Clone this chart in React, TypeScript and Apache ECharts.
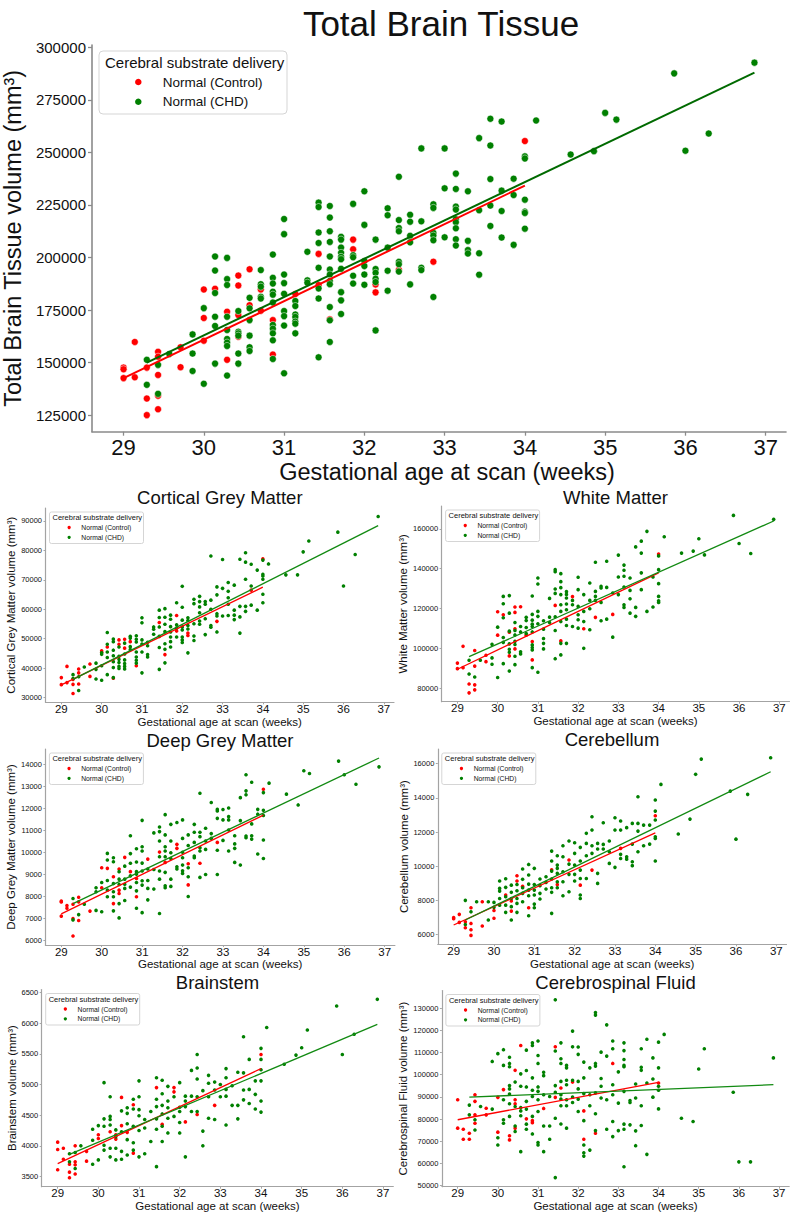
import React, { useEffect, useRef } from "react";
import * as echarts from "echarts";

// ---------------- DATA ----------------
const xTicks = [29, 30, 31, 32, 33, 34, 35, 36, 37];
const xRange = [28.607, 37.253];

// Total Brain Tissue
const tbtControl = [[29,147600],[29,146800],[29,142600],[29.14,159800],[29.14,143000],[29.29,147600],[29.29,132900],[29.29,125000],[29.43,155100],[29.43,152800],[29.43,144100],[29.43,134200],[29.43,127800],[29.71,157300],[29.71,147800],[30,184800],[30,171200],[30,160400],[30.14,185100],[30.29,174200],[30.29,151300],[30.43,191400],[30.43,186700],[30.43,172600],[30.43,162300],[30.57,194400],[30.57,177300],[30.71,174700],[30.71,184800],[30.86,170200],[30.86,153800],[31.14,182600],[31.43,201700],[31.43,186900],[31.57,170600],[31.86,208500],[31.86,203900],[32.14,187200],[32.14,183400],[32.43,194200],[32.86,198000],[34,255400]];
const tbtCHD = [[29.29,151300],[29.29,139400],[29.43,148900],[29.43,135100],[29.57,154100],[29.86,163400],[29.86,154300],[29.86,146000],[30,175900],[30,139900],[30.14,200500],[30.14,193800],[30.14,183100],[30.14,171800],[30.14,167400],[30.14,149500],[30.29,199800],[30.29,189700],[30.29,186900],[30.29,171800],[30.29,165500],[30.29,161200],[30.29,159500],[30.29,157900],[30.29,143800],[30.43,174500],[30.43,164700],[30.43,163900],[30.43,162800],[30.43,154300],[30.43,149500],[30.57,180800],[30.57,175800],[30.57,170200],[30.57,162800],[30.57,157300],[30.57,155500],[30.71,194000],[30.71,187300],[30.71,186100],[30.71,181300],[30.71,180500],[30.86,201400],[30.86,190300],[30.86,187600],[30.86,183700],[30.86,182300],[30.86,178600],[30.86,167900],[30.86,166100],[30.86,163900],[30.86,160600],[30.86,151700],[31,218300],[31,211100],[31,191900],[31,187800],[31,182700],[31,174500],[31,172100],[31,167600],[31,144900],[31.14,179300],[31.14,176900],[31.14,172900],[31.14,171700],[31.14,169500],[31.14,168500],[31.14,163900],[31.29,202700],[31.29,189100],[31.29,188000],[31.43,226100],[31.43,224000],[31.43,211900],[31.43,206900],[31.43,195100],[31.43,185300],[31.43,180500],[31.43,152500],[31.57,224500],[31.57,219000],[31.57,212500],[31.57,207400],[31.57,200500],[31.57,194300],[31.57,191900],[31.57,188800],[31.57,187300],[31.57,176400],[31.57,170100],[31.57,159800],[31.71,209800],[31.71,208500],[31.71,204700],[31.71,202200],[31.71,200300],[31.71,199200],[31.71,194600],[31.71,183500],[31.71,179600],[31.71,173100],[31.86,225500],[31.86,201100],[31.86,200100],[31.86,191300],[31.86,187600],[32,231500],[32,215500],[32,198300],[32,195900],[32,191900],[32,187000],[32.14,208500],[32.14,194500],[32.14,192700],[32.14,189900],[32.14,188300],[32.14,165300],[32.29,223400],[32.29,220100],[32.29,204700],[32.29,193700],[32.29,184200],[32.43,238400],[32.43,217800],[32.43,214000],[32.43,212500],[32.43,197900],[32.43,196800],[32.43,193300],[32.57,220300],[32.57,217000],[32.57,210300],[32.57,207200],[32.57,187200],[32.71,251900],[32.71,217200],[32.71,195100],[32.71,194000],[32.86,225300],[32.86,223600],[32.86,211700],[32.86,210400],[32.86,208200],[32.86,181200],[33,251900],[33,232900],[33,209600],[33.14,239900],[33.14,232600],[33.14,224200],[33.14,222800],[33.14,218200],[33.14,216800],[33.14,213900],[33.14,208700],[33.14,205700],[33.29,231500],[33.29,207900],[33.29,203500],[33.29,201900],[33.43,256800],[33.43,222500],[33.43,202000],[33.43,191800],[33.57,266000],[33.57,253300],[33.57,237300],[33.57,224700],[33.57,215000],[33.71,264700],[33.71,231800],[33.71,222100],[33.71,209500],[33.86,237500],[33.86,229700],[33.86,206000],[34,248100],[34,247100],[34,227500],[34,221800],[34,221200],[34,213700],[34.14,265200],[34.57,249000],[34.86,250600],[35,268800],[35.14,265600],[35.86,287600],[36,250800],[36.29,259000],[36.86,292700]];
const tbtControlFit = [[29,142600],[34,234200]];
const tbtCHDFit = [[29.29,150000],[36.86,288000]];
const tbtYTicks = [125000,150000,175000,200000,225000,250000,275000,300000];
const tbtYRange = [117100, 301100];

// Cortical Grey Matter
const cgmControl = [[29,36800],[29,34400],[29.14,35100],[29.14,40600],[29.29,36200],[29.29,34500],[29.29,31400],[29.43,39700],[29.43,38400],[29.43,34600],[29.71,41400],[29.71,37200],[30,45900],[30,45400],[30.14,47200],[30.29,36600],[30.43,49600],[30.43,48100],[30.57,49800],[30.57,46800],[30.71,49000],[30.86,40800],[31.43,55500],[31.57,44600],[31.86,57900],[31.86,52600],[32.14,51900],[32.14,51100],[32.86,55900],[33.71,66500],[34,77100]];
const cgmCHD = [[29.29,37800],[29.29,36500],[29.43,37100],[29.43,32400],[29.57,40400],[29.86,41700],[29.86,39600],[29.86,36300],[30,45200],[30,44700],[30,40800],[30,35900],[30.14,52100],[30.14,48100],[30.14,45500],[30.14,43600],[30.14,37800],[30.29,49900],[30.29,49000],[30.29,46100],[30.29,44200],[30.29,42200],[30.29,40200],[30.29,36800],[30.43,47200],[30.43,44000],[30.43,43000],[30.43,41900],[30.43,40600],[30.43,39900],[30.57,48500],[30.57,44800],[30.57,42800],[30.57,41600],[30.57,40600],[30.57,39700],[30.71,50800],[30.71,50200],[30.71,47300],[30.71,46300],[30.86,51000],[30.86,49800],[30.86,48900],[30.86,45500],[30.86,43800],[30.86,42700],[30.86,41700],[31,57100],[31,55400],[31,49600],[31,48200],[31,45500],[31,38400],[31.14,48800],[31.14,47600],[31.14,44600],[31.14,43800],[31.29,54000],[31.29,53200],[31.29,51500],[31.43,59700],[31.43,57200],[31.43,54000],[31.43,50800],[31.43,47000],[31.43,39600],[31.57,60200],[31.57,57300],[31.57,54900],[31.57,52400],[31.57,48300],[31.57,46400],[31.57,41800],[31.71,58000],[31.71,56600],[31.71,54100],[31.71,52300],[31.71,50600],[31.71,49000],[31.71,47200],[31.86,62200],[31.86,54700],[31.86,53600],[31.86,50600],[32,67800],[32,60700],[32,56300],[32,54000],[32,53000],[32,50600],[32,49600],[32,48700],[32.14,57100],[32.14,56200],[32.14,54500],[32.14,53300],[32.14,45200],[32.29,63400],[32.29,61900],[32.29,55100],[32.29,50900],[32.29,49400],[32.43,64400],[32.43,62600],[32.43,60800],[32.43,58800],[32.43,56000],[32.43,54900],[32.57,62600],[32.57,61700],[32.57,56800],[32.57,51400],[32.71,78100],[32.71,63100],[32.71,60000],[32.71,54500],[32.71,53900],[32.86,67600],[32.86,64900],[32.86,58500],[32.86,57700],[32.86,52300],[33,76900],[33,67100],[33,57700],[33.14,69100],[33.14,66100],[33.14,63900],[33.14,61700],[33.14,57900],[33.29,68200],[33.29,59700],[33.29,58000],[33.29,56500],[33.43,77000],[33.43,61000],[33.43,57400],[33.43,51900],[33.57,79200],[33.57,76000],[33.57,70200],[33.57,61000],[33.57,59300],[33.71,75300],[33.71,67900],[33.71,61400],[33.86,73300],[33.86,59700],[34,76700],[34,71900],[34,71300],[34,70200],[34,65100],[34,62200],[34.14,75400],[34.57,71700],[34.86,71700],[35,79500],[35.14,83200],[35.86,86200],[36,67900],[36.29,78600],[36.86,91500]];
const cgmControlFit = [[29,34300],[34,67500]];
const cgmCHDFit = [[29.29,36200],[36.86,88400]];
const cgmYTicks = [30000,40000,50000,60000,70000,80000,90000];
const cgmYRange = [28400, 94400];

// White Matter
const wmControl = [[29,92700],[29,89900],[29.14,101100],[29.14,90400],[29.29,82200],[29.29,77800],[29.43,99000],[29.43,91200],[29.43,81800],[29.43,79300],[29.71,96600],[29.71,93400],[30,118400],[30,106700],[30.14,116900],[30.29,108200],[30.29,96300],[30.43,120800],[30.43,118100],[30.43,109900],[30.43,99800],[30.57,120900],[30.71,106700],[30.86,103500],[30.86,94300],[31.43,121600],[31.57,103800],[31.86,126000],[32.14,109900],[32.43,115600],[32.86,117100],[34,147300]];
const wmCHD = [[29.29,87200],[29.29,94100],[29.43,85700],[29.57,94100],[29.86,102100],[29.86,95300],[29.86,92100],[30,110700],[30,85500],[30.14,126100],[30.14,122400],[30.14,115400],[30.14,105500],[30.14,103100],[30.14,92400],[30.29,126500],[30.29,117700],[30.29,108700],[30.29,102300],[30.29,99600],[30.29,98100],[30.29,88700],[30.43,113000],[30.43,109000],[30.43,106800],[30.43,103600],[30.43,102000],[30.43,96100],[30.43,91900],[30.57,111000],[30.57,108300],[30.57,98400],[30.57,97300],[30.71,115600],[30.71,114000],[30.71,110500],[30.71,107500],[30.86,126300],[30.86,117100],[30.86,114200],[30.86,112200],[30.86,111000],[30.86,108300],[30.86,101800],[30.86,100500],[30.86,99300],[30.86,90400],[31,135300],[31,132300],[31,118600],[31,116100],[31,112400],[31,88100],[31.14,113900],[31.14,109700],[31.14,105000],[31.14,102600],[31.14,99800],[31.29,125100],[31.29,115700],[31.29,113000],[31.43,139500],[31.43,138500],[31.43,129800],[31.43,127600],[31.43,115900],[31.43,109000],[31.43,94900],[31.57,137500],[31.57,133500],[31.57,130500],[31.57,127000],[31.57,121900],[31.57,118600],[31.57,113500],[31.57,102600],[31.57,96800],[31.71,128500],[31.71,127100],[31.71,125300],[31.71,122300],[31.71,119400],[31.71,114700],[31.71,111500],[31.71,102600],[31.86,124100],[31.86,121900],[31.86,111000],[32,135700],[32,129500],[32,121100],[32,116900],[32,114400],[32,110200],[32.14,127000],[32.14,118600],[32.14,113500],[32.14,100100],[32.29,132800],[32.29,124100],[32.29,119900],[32.29,109400],[32.43,143200],[32.43,128600],[32.43,126100],[32.43,124100],[32.57,131200],[32.57,130300],[32.57,123100],[32.57,113900],[32.71,143700],[32.71,130600],[32.71,114700],[32.86,127800],[32.86,105700],[33,146800],[33,135800],[33,127000],[33.14,141800],[33.14,139200],[33.14,136200],[33.14,130800],[33.14,121900],[33.14,120600],[33.29,135300],[33.29,129100],[33.29,124900],[33.29,117700],[33.43,150900],[33.43,120600],[33.43,116100],[33.57,153800],[33.57,147800],[33.57,137900],[33.57,129500],[33.71,158700],[33.71,118600],[33.86,135800],[33.86,120800],[34,146400],[34,139500],[34,132500],[34,126100],[34,123900],[34,123100],[34.14,156000],[34.57,147800],[34.86,148800],[35,155000],[35.14,146900],[35.86,166700],[36,152600],[36.29,147600],[36.86,164700]];
const wmControlFit = [[29,89600],[34,137900]];
const wmCHDFit = [[29.29,95900],[36.86,163900]];
const wmYTicks = [80000,100000,120000,140000,160000];
const wmYRange = [73350, 171400];

// Deep Grey Matter
const dgmControl = [[29,7790],[29,7750],[29,7110],[29.14,7590],[29.14,7470],[29.29,7650],[29.29,7000],[29.29,6210],[29.43,7970],[29.43,7760],[29.43,6910],[29.71,7340],[30,9310],[30,8400],[30.14,9280],[30.29,8900],[30.29,7680],[30.43,9250],[30.43,8290],[30.43,8140],[30.57,9780],[30.71,9130],[30.86,7990],[30.86,8820],[31.14,9700],[31.43,10020],[31.57,9550],[31.86,10370],[31.86,10190],[32.14,9490],[32.14,8530],[32.43,9510],[32.86,10460],[34,12870]];
const dgmCHD = [[29.29,7910],[29.29,6940],[29.43,7180],[29.57,7650],[29.86,8400],[29.86,8220],[29.86,7370],[30,8640],[30,7310],[30.14,9960],[30.14,9660],[30.14,8730],[30.14,8290],[30.14,7990],[30.29,9760],[30.29,9580],[30.29,8590],[30.29,8220],[30.29,7990],[30.29,7350],[30.43,9130],[30.43,8790],[30.43,8550],[30.43,7680],[30.43,7030],[30.57,9380],[30.57,8790],[30.57,8560],[30.57,8370],[30.57,7820],[30.71,10760],[30.71,9950],[30.71,9510],[30.71,8940],[30.71,8430],[30.86,10170],[30.86,9570],[30.86,9130],[30.86,9020],[30.86,8640],[30.86,8260],[30.86,7470],[31,11460],[31,10260],[31,10070],[31,9520],[31,9160],[31,8720],[31,8520],[31,7270],[31.14,9250],[31.14,8730],[31.14,8370],[31.14,7850],[31.29,10890],[31.29,9230],[31.29,8340],[31.43,11160],[31.43,10950],[31.43,10520],[31.43,9810],[31.43,9160],[31.43,8790],[31.43,7230],[31.57,11720],[31.57,10800],[31.57,10260],[31.57,10070],[31.57,9810],[31.57,9100],[31.57,8490],[31.57,8400],[31.71,11280],[31.71,10520],[31.71,9990],[31.71,9730],[31.71,8790],[31.71,8460],[31.86,11360],[31.86,9350],[31.86,9250],[32,11480],[32,10640],[32,10010],[32,9760],[32,9430],[32,9170],[32,9050],[32.14,10800],[32.14,10320],[32.14,9310],[32.14,8900],[32.14,8000],[32.29,11280],[32.29,10920],[32.29,10460],[32.29,9840],[32.29,9760],[32.43,12690],[32.43,10920],[32.43,10720],[32.43,10220],[32.43,10070],[32.43,8870],[32.57,11100],[32.57,10520],[32.57,10140],[32.57,9000],[32.71,12270],[32.71,10860],[32.71,10640],[32.86,11960],[32.86,11890],[32.86,11550],[32.86,10100],[32.86,9000],[33,11950],[33,11480],[33,10550],[33.14,12020],[33.14,11630],[33.14,11480],[33.14,11020],[33.14,10070],[33.29,10760],[33.29,10390],[33.29,10190],[33.29,9550],[33.43,12490],[33.43,11450],[33.43,9430],[33.57,13530],[33.57,12800],[33.57,12620],[33.57,10750],[33.57,10670],[33.71,13190],[33.71,11300],[33.71,10760],[33.71,10610],[33.86,11960],[33.86,11740],[33.86,9930],[34,12720],[34,11920],[34,11680],[34,10570],[34,9730],[34.14,13150],[34.57,12650],[34.86,12160],[35,13710],[35.14,13590],[35.86,14150],[36,13530],[36.29,13100],[36.86,13890]];
const dgmControlFit = [[29,7210],[34,11700]];
const dgmCHDFit = [[29.29,7680],[36.86,14290]];
const dgmYTicks = [6000,7000,8000,9000,10000,11000,12000,13000,14000];
const dgmYRange = [5800, 14700];

// Cerebellum
const cbControl = [[29,7010],[29,6940],[29.14,7190],[29.14,6720],[29.29,6760],[29.29,6410],[29.43,7580],[29.43,6660],[29.43,6290],[29.43,5960],[29.71,7930],[29.71,6510],[30,7420],[30,6960],[30.29,8320],[30.43,7970],[30.43,7380],[30.57,9450],[30.57,9140],[30.71,8830],[30.86,7580],[31.43,9800],[31.57,8930],[31.86,10370],[32.14,8900],[32.43,9780],[33.14,11050],[34,12960]];
const cbCHD = [[29.29,8010],[29.29,6600],[29.43,7340],[29.57,7930],[29.86,7930],[29.86,6860],[30,7890],[30,7600],[30.14,9140],[30.14,8710],[30.14,8550],[30.14,8120],[30.14,7730],[30.29,9270],[30.29,8770],[30.29,8220],[30.29,7730],[30.29,7310],[30.43,8900],[30.43,8480],[30.43,8120],[30.43,7640],[30.43,6860],[30.57,8940],[30.57,8570],[30.57,8120],[30.57,7830],[30.57,7310],[30.71,9840],[30.71,9240],[30.71,8750],[30.71,8420],[30.71,7930],[30.86,10110],[30.86,9490],[30.86,8960],[30.86,8610],[30.86,8280],[30.86,7110],[31,9880],[31,8940],[31,8610],[31,8320],[31,7790],[31,7580],[31.14,9260],[31.14,8870],[31.14,8420],[31.14,8090],[31.29,9390],[31.29,9060],[31.29,8670],[31.43,10890],[31.43,10310],[31.43,9720],[31.43,9260],[31.43,8750],[31.43,8480],[31.43,7250],[31.57,10620],[31.57,10070],[31.57,9880],[31.57,9590],[31.57,9100],[31.57,8750],[31.71,11200],[31.71,10560],[31.71,9680],[31.71,9100],[31.71,8280],[31.86,11480],[31.86,10130],[31.86,9530],[31.86,8510],[32,11380],[32,10760],[32,10070],[32,9530],[32,9140],[32.14,11110],[32.14,10310],[32.14,9780],[32.14,9290],[32.14,8320],[32.14,8120],[32.29,11930],[32.29,11340],[32.29,10620],[32.29,9290],[32.43,12900],[32.43,12120],[32.43,11200],[32.43,10760],[32.57,11340],[32.57,11010],[32.57,9590],[32.57,9000],[32.71,12550],[32.71,11280],[32.71,11010],[32.86,11480],[32.86,10850],[32.86,10170],[33,12840],[33,12120],[33,9940],[33.14,12650],[33.14,12120],[33.14,10700],[33.14,10460],[33.29,12260],[33.29,10560],[33.29,10420],[33.43,12510],[33.43,11300],[33.43,10270],[33.43,10040],[33.57,14070],[33.57,12510],[33.57,12060],[33.57,10850],[33.71,12410],[33.71,11200],[33.86,12410],[33.86,11300],[34,13880],[34,13230],[34,12710],[34,11730],[34,11630],[34,10310],[34.14,14790],[34.57,11890],[34.86,12760],[35,15380],[35.14,16270],[35.86,14400],[36,11590],[36.29,14210],[36.86,16350]];
const cbControlFit = [[29,6570],[34,11960]];
const cbCHDFit = [[29.29,6860],[36.86,15530]];
const cbYTicks = [6000,8000,10000,12000,14000,16000];
const cbYRange = [5440, 16860];

// Brainstem
const bsControl = [[29,4060],[29,3940],[29,3610],[29.14,3960],[29.14,3780],[29.29,3700],[29.29,3570],[29.29,3480],[29.43,4000],[29.43,3740],[29.43,3690],[29.43,3540],[29.71,3910],[29.71,3750],[30,4180],[30,4120],[30.29,4230],[30.43,4180],[30.43,4110],[30.57,4790],[30.57,4330],[30.71,4220],[30.86,4670],[30.86,3880],[31.43,4950],[31.57,4350],[31.86,4950],[31.86,4880],[32.14,4390],[32.43,4510],[32.86,4660],[34,5490]];
const bsCHD = [[29.29,3870],[29.29,3740],[29.43,3890],[29.43,3630],[29.57,4000],[29.86,4270],[29.86,4090],[29.86,3700],[30,4330],[30,3770],[30.14,5030],[30.14,4440],[30.14,4320],[30.14,4010],[30.14,3930],[30.29,4800],[30.29,4480],[30.29,4430],[30.29,4340],[30.29,3960],[30.29,3820],[30.43,4260],[30.43,4150],[30.43,3960],[30.43,3770],[30.57,4570],[30.57,4230],[30.57,3910],[30.57,3780],[30.71,4620],[30.71,4530],[30.71,4360],[30.71,4100],[30.71,3850],[30.86,4760],[30.86,4600],[30.86,4320],[30.86,4050],[30.86,3930],[31,5060],[31,4800],[31,4590],[31,4490],[31,4250],[31,3820],[31.14,4430],[31.14,4290],[31.14,3870],[31.29,4560],[31.29,4070],[31.43,5110],[31.43,4760],[31.43,4640],[31.43,4440],[31.43,4270],[31.43,3660],[31.57,5070],[31.57,4850],[31.57,4660],[31.57,4520],[31.57,4320],[31.57,4070],[31.71,4970],[31.71,4730],[31.71,4620],[31.71,4450],[31.71,4210],[31.86,4800],[31.86,4480],[32,5030],[32,4630],[32,4560],[32,4380],[32,4210],[32.14,4810],[32.14,4730],[32.14,4640],[32.14,3820],[32.29,5230],[32.29,4810],[32.29,4560],[32.43,5490],[32.43,5270],[32.43,5090],[32.43,4800],[32.43,4560],[32.57,4900],[32.57,4240],[32.57,4000],[32.71,5150],[32.71,5020],[32.71,4800],[32.71,4450],[32.86,5040],[32.86,4910],[32.86,4430],[33,5000],[33,4800],[33.14,5260],[33.14,5110],[33.14,4920],[33.14,4810],[33.14,4340],[33.29,4980],[33.29,4660],[33.43,5200],[33.43,4660],[33.43,4440],[33.57,5780],[33.57,5190],[33.57,4910],[33.57,4750],[33.71,5410],[33.71,4920],[33.71,4690],[33.86,5060],[33.86,4840],[33.86,4600],[34,5590],[34,5410],[34,5240],[34,5060],[34,4730],[34,4550],[34.14,5930],[34.57,5330],[34.86,5480],[35,5600],[35.14,5890],[35.86,6280],[36,5490],[36.29,5820],[36.86,6390]];
const bsControlFit = [[29,3710],[34,5260]];
const bsCHDFit = [[29.29,3860],[36.86,5980]];
const bsYTicks = [3500,4000,4500,5000,5500,6000,6500];
const bsYRange = [3333, 6550];

// Cerebrospinal Fluid
const csfControl = [[29,88700],[29,75900],[29.14,75400],[29.14,70900],[29.29,73600],[29.29,70900],[29.43,91000],[29.43,88000],[29.43,81900],[29.43,78100],[29.71,84900],[29.71,81900],[30,89800],[30,74100],[30.14,93300],[30.29,72500],[30.29,70600],[30.43,102000],[30.43,88700],[30.43,86900],[30.43,75900],[30.57,113200],[30.71,80100],[30.86,79300],[30.86,78400],[31.14,84800],[31.43,112600],[31.43,89800],[31.57,94000],[31.86,96700],[32.14,83700],[32.14,70900],[32.43,73600],[32.86,105100],[34,96300]];
const csfCHD = [[29.29,86300],[29.29,81900],[29.43,79700],[29.43,75100],[29.57,85700],[29.86,106000],[29.86,84500],[30,109500],[30,71600],[30,68300],[30.14,111300],[30.14,104200],[30.14,88700],[30.14,79700],[30.14,78100],[30.29,107900],[30.29,105100],[30.29,103600],[30.29,95100],[30.29,93600],[30.29,91300],[30.29,86900],[30.29,81200],[30.43,96700],[30.43,85700],[30.43,76900],[30.43,74400],[30.57,100400],[30.57,94800],[30.57,85200],[30.57,83700],[30.57,81500],[30.57,65300],[30.71,111100],[30.71,101900],[30.71,94500],[30.71,88000],[30.71,84500],[30.71,77700],[30.71,75400],[30.86,114400],[30.86,113200],[30.86,98600],[30.86,93000],[30.86,90200],[30.86,81200],[30.86,73300],[31,115200],[31,108700],[31,105100],[31,94500],[31,92500],[31,88700],[31,83400],[31,69400],[31,68300],[31.14,101100],[31.14,99600],[31.14,91000],[31.14,76900],[31.14,65300],[31.29,90200],[31.29,76900],[31.29,70900],[31.43,133800],[31.43,110700],[31.43,95100],[31.43,92100],[31.43,80400],[31.43,53600],[31.57,114400],[31.57,107200],[31.57,105100],[31.57,97000],[31.57,91000],[31.57,89000],[31.57,86000],[31.57,77800],[31.71,104200],[31.71,103100],[31.71,97500],[31.71,95500],[31.71,88700],[31.71,86000],[31.71,75900],[31.86,119700],[31.86,112600],[31.86,97500],[31.86,89900],[31.86,87500],[32,112500],[32,109200],[32,97000],[32,93600],[32,89000],[32,83400],[32.14,105700],[32.14,98600],[32.14,91500],[32.14,79300],[32.14,68300],[32.14,64800],[32.14,63300],[32.29,103100],[32.29,91000],[32.29,86000],[32.29,66000],[32.43,128100],[32.43,126900],[32.43,105100],[32.43,103900],[32.43,91800],[32.43,82400],[32.43,74800],[32.57,110200],[32.57,98300],[32.57,94800],[32.57,89500],[32.71,122500],[32.71,108400],[32.71,88700],[32.71,75400],[32.86,115200],[32.86,111700],[32.86,95500],[32.86,91000],[32.86,78900],[32.86,72100],[33,101300],[33,87200],[33,74800],[33.14,114400],[33.14,110900],[33.14,106900],[33.14,104200],[33.14,103600],[33.14,92500],[33.14,77700],[33.14,75400],[33.14,58500],[33.29,88400],[33.29,87500],[33.29,77400],[33.43,95800],[33.43,89500],[33.43,74700],[33.43,68000],[33.57,111700],[33.57,103400],[33.57,102000],[33.57,86000],[33.57,77100],[33.71,116000],[33.71,96300],[33.71,64100],[33.86,107600],[33.86,98100],[33.86,89900],[34,114700],[34,103100],[34,94800],[34,93000],[34,84600],[34.14,118200],[34.57,80400],[34.86,78900],[35,102600],[35.14,111700],[35.86,92100],[36,60700],[36.29,60700],[36.86,107600]];
const csfControlFit = [[29,79700],[34,96600]];
const csfCHDFit = [[29.29,89900],[36.86,95500]];
const csfYTicks = [50000,60000,70000,80000,90000,100000,110000,120000,130000];
const csfYRange = [49500, 138000];

const legendTitle = "Cerebral substrate delivery";
const controlName = "Normal (Control)";
const chdName = "Normal (CHD)";
const xName = "Gestational age at scan (weeks)";

const PANELS = [
  { title: "Total Brain Tissue", yName: "Total Brain Tissue volume (mm³)", control: tbtControl, chd: tbtCHD, controlFit: tbtControlFit, chdFit: tbtCHDFit, yTicks: tbtYTicks, yRange: tbtYRange },
  { title: "Cortical Grey Matter", yName: "Cortical Grey Matter volume (mm³)", control: cgmControl, chd: cgmCHD, controlFit: cgmControlFit, chdFit: cgmCHDFit, yTicks: cgmYTicks, yRange: cgmYRange },
  { title: "White Matter", yName: "White Matter volume (mm³)", control: wmControl, chd: wmCHD, controlFit: wmControlFit, chdFit: wmCHDFit, yTicks: wmYTicks, yRange: wmYRange },
  { title: "Deep Grey Matter", yName: "Deep Grey Matter volume (mm³)", control: dgmControl, chd: dgmCHD, controlFit: dgmControlFit, chdFit: dgmCHDFit, yTicks: dgmYTicks, yRange: dgmYRange },
  { title: "Cerebellum", yName: "Cerebellum volume (mm³)", control: cbControl, chd: cbCHD, controlFit: cbControlFit, chdFit: cbCHDFit, yTicks: cbYTicks, yRange: cbYRange },
  { title: "Brainstem", yName: "Brainstem volume (mm³)", control: bsControl, chd: bsCHD, controlFit: bsControlFit, chdFit: bsCHDFit, yTicks: bsYTicks, yRange: bsYRange },
  { title: "Cerebrospinal Fluid", yName: "Cerebrospinal Fluid volume (mm³)", control: csfControl, chd: csfCHD, controlFit: csfControlFit, chdFit: csfCHDFit, yTicks: csfYTicks, yRange: csfYRange },
];

// ---------------- LAYOUT / STYLE ----------------
const FONT = '"Liberation Sans", Arial, Helvetica, sans-serif';
const RED = "#ff0000";
const GREEN = "#008000";
const TEXT = "#111111";

const LAYOUTS = [
  { big: true, left: 92, right: 786, top: 45, bottom: 431.7, titleX: 441, titleY: 23.5, yNameGap: 57, xNameGap: 27 },
  { big: false, left: 45.5, right: 394, top: 508, bottom: 702.3, titleX: 219.8, titleY: 497, yNameGap: 25, xNameGap: 11.5 },
  { big: false, left: 441.6, right: 789.5, top: 506, bottom: 701.7, titleX: 615.5, titleY: 497, yNameGap: 28.5, xNameGap: 12 },
  { big: false, left: 45.4, right: 394.9, top: 749, bottom: 945, titleX: 220, titleY: 740.5, yNameGap: 25.5, xNameGap: 11.5 },
  { big: false, left: 437.8, right: 786.5, top: 749, bottom: 944.3, titleX: 612, titleY: 739.5, yNameGap: 25, xNameGap: 12 },
  { big: false, left: 41.7, right: 393.3, top: 989.5, bottom: 1186.7, titleX: 217.5, titleY: 982, yNameGap: 21, xNameGap: 13.5 },
  { big: false, left: 441.9, right: 789.2, top: 990.5, bottom: 1186.7, titleX: 615.5, titleY: 982, yNameGap: 28, xNameGap: 13.5 },
];

const BIG = { s: 1, xTickFont: 22, yTickFont: 15, nameFont: 23.5, titleFont: 35, sym: 7, border: 0.5, lw: 2, axisW: 1.6, axisColor: "#8a8a8a", tickLen: 4, xMargin: 5, yMargin: 6, fitGreen: "#006a00", xNamePad: 16 };
const SMALL = { s: 0.5, xTickFont: 11.5, yTickFont: 7.5, nameFont: 11.5, titleFont: 18.5, sym: 3.6, border: 0, lw: 1.3, axisW: 1.2, axisColor: "#a3a3a3", tickLen: 2, xMargin: 0.5, yMargin: 3.5, fitGreen: "#128a12", xNamePad: 0 };

function buildOption() {
  const grid: any[] = [];
  const xAxis: any[] = [];
  const yAxis: any[] = [];
  const series: any[] = [];
  const legend: any[] = [];
  const elements: any[] = [];
  const fmt = (v: number) => String(v);

  PANELS.forEach((p, i) => {
    const L = LAYOUTS[i];
    const st = L.big ? BIG : SMALL;
    const s = st.s;
    grid.push({ left: L.left, top: L.top, width: L.right - L.left, height: L.bottom - L.top, containLabel: false, outerBoundsMode: "none" });
    xAxis.push({
      type: "value", gridIndex: i, min: xRange[0], max: xRange[1],
      axisLine: { show: true, onZero: false, lineStyle: { color: st.axisColor, width: st.axisW } },
      axisTick: { show: true, length: st.tickLen, customValues: xTicks, lineStyle: { color: st.axisColor, width: st.axisW * 0.8 } },
      axisLabel: { customValues: xTicks, formatter: fmt, fontSize: st.xTickFont, fontFamily: FONT, color: TEXT, margin: st.xMargin },
      splitLine: { show: false },
      name: xName, nameLocation: "middle", nameGap: L.xNameGap,
      nameTextStyle: { fontSize: st.nameFont, fontFamily: FONT, color: TEXT, padding: [0, 0, 0, st.xNamePad] },
    });
    yAxis.push({
      type: "value", gridIndex: i, min: p.yRange[0], max: p.yRange[1],
      axisLine: { show: true, onZero: false, lineStyle: { color: st.axisColor, width: st.axisW } },
      axisTick: { show: true, length: st.tickLen, customValues: p.yTicks, lineStyle: { color: st.axisColor, width: st.axisW * 0.8 } },
      axisLabel: { customValues: p.yTicks, formatter: fmt, fontSize: st.yTickFont, fontFamily: FONT, color: TEXT, margin: st.yMargin },
      splitLine: { show: false },
      name: p.yName, nameLocation: "middle", nameGap: L.yNameGap, nameRotate: 90,
      nameTextStyle: { fontSize: st.nameFont, fontFamily: FONT, color: TEXT },
    });
    series.push({
      type: "scatter", name: controlName, xAxisIndex: i, yAxisIndex: i, data: p.control,
      symbol: "circle", symbolSize: st.sym, z: 2,
      itemStyle: { color: RED, opacity: 1, borderColor: "#ffffff", borderWidth: st.border },
    });
    series.push({
      type: "scatter", name: chdName, xAxisIndex: i, yAxisIndex: i, data: p.chd,
      symbol: "circle", symbolSize: st.sym, z: 3,
      itemStyle: { color: GREEN, opacity: 1, borderColor: "#ffffff", borderWidth: st.border },
    });
    series.push({
      type: "line", name: "Control fit", xAxisIndex: i, yAxisIndex: i, data: p.controlFit,
      showSymbol: false, symbol: "none", silent: true, z: 4,
      lineStyle: { color: RED, width: st.lw }, itemStyle: { color: RED },
    });
    series.push({
      type: "line", name: "CHD fit", xAxisIndex: i, yAxisIndex: i, data: p.chdFit,
      showSymbol: false, symbol: "none", silent: true, z: 5,
      lineStyle: { color: st.fitGreen, width: st.lw }, itemStyle: { color: st.fitGreen },
    });

    // legend box
    const boxL = L.left + (L.big ? 7 : 4);
    const boxT = L.top + (L.big ? 6 : 4);
    const dot = L.big ? 6.5 : 3.3;
    legend.push({
      data: [controlName, chdName], orient: "vertical",
      left: boxL + 39.3 * s - dot / 2, top: boxT + 24 * s,
      padding: 0, itemWidth: dot, itemHeight: dot, itemGap: 5.7 * s, icon: "circle",
      selectedMode: false, z: 6,
      itemStyle: { borderWidth: 0 },
      textStyle: { fontSize: 13.5 * s, fontFamily: FONT, color: TEXT, lineHeight: 14 * s, padding: [0, 0, 0, 24.4 * s - dot / 2 - 5] },
    });
    elements.push({
      type: "rect", z: 1, silent: true,
      shape: { x: boxL, y: boxT, width: 188 * s, height: 63 * s, r: 4 * s },
      style: { fill: "rgba(255,255,255,0.85)", stroke: "#d5d5d5", lineWidth: 1 },
    });
    elements.push({
      type: "text", z: 6, x: boxL + 6 * s, y: boxT + 11.5 * s, silent: true,
      style: { text: legendTitle, fontSize: 15 * s, fontFamily: FONT, fill: TEXT, align: "left", verticalAlign: "middle" },
    });
    elements.push({
      type: "text", z: 6, x: L.titleX, y: L.titleY, silent: true,
      style: { text: p.title, fontSize: st.titleFont, fontFamily: FONT, fill: TEXT, align: "center", verticalAlign: "middle" },
    });
  });

  return {
    animation: false,
    backgroundColor: "#ffffff",
    textStyle: { fontFamily: FONT },
    grid, xAxis, yAxis, series, legend,
    graphic: { elements },
  };
}

export default function App() {
  const ref = useRef<HTMLDivElement>(null);
  useEffect(() => {
    if (!ref.current) return;
    const chart = echarts.init(ref.current, undefined, { renderer: "svg", width: 800, height: 1222 });
    chart.setOption(buildOption() as any);
    return () => chart.dispose();
  }, []);
  return (
    <div
      ref={ref}
      style={{ position: "absolute", left: 0, top: 0, width: 800, height: 1222, background: "#fff" }}
    />
  );
}
